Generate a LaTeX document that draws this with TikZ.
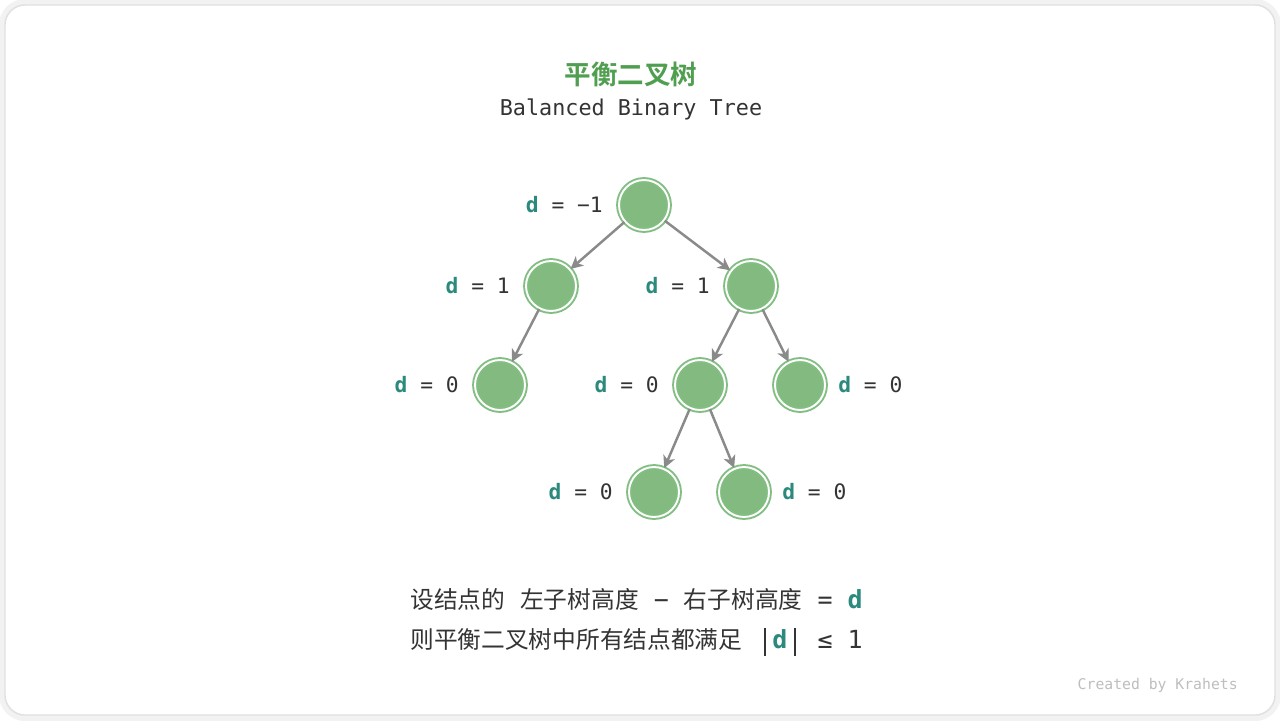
\documentclass[tikz,border=0pt]{standalone}
\usepackage{fontspec}
\setmonofont{DejaVu Sans Mono}
\newfontfamily\cjk{Noto Sans CJK SC}[BoldFont={Noto Sans CJK SC Bold}]
\usepackage{tikz}
\usetikzlibrary{arrows.meta, positioning}
\definecolor{titlegreen}{RGB}{80, 158, 80}
\definecolor{nodefill}{RGB}{130, 186, 128}
\definecolor{ringgreen}{RGB}{130, 190, 130}
\definecolor{dteal}{RGB}{43, 138, 125}
\definecolor{edgegray}{RGB}{138, 138, 138}
\definecolor{textdark}{RGB}{52, 52, 52}
\definecolor{creditgray}{RGB}{190, 190, 190}
\newcommand{\zh}[1]{{\cjk\fontsize{13.5pt}{17pt}\selectfont #1}}
\newcommand{\dd}{\textbf{\textcolor{dteal}{d}}}
\newcommand{\absbar}{\makebox[8.55pt]{\rule[-4pt]{1.5pt}{15.4pt}}}

\begin{document}
\begin{tikzpicture}[
    x=0.02cm, y=-0.02cm,
    every node/.style={inner sep=0pt},
    treenode/.style={circle, minimum size=1.0cm, fill=nodefill, draw=ringgreen, line width=1.1pt, double=white, double distance=1.1pt},
    dlabel/.style={font=\ttfamily\fontsize{12.1pt}{15pt}\selectfont, text=textdark},
    note/.style={font=\ttfamily\fontsize{14.2pt}{17pt}\selectfont, text=textdark, anchor=west},
    arrow/.style={->, >={Stealth[length=7pt, width=7pt, inset=2pt]}, line width=1.4pt, draw=edgegray}
]

% Frame
\useasboundingbox (0,0) rectangle (1280,720);
\draw[rounded corners=0.44cm, draw=black!5, line width=6pt] (4,4) rectangle (1276,716);
\draw[rounded corners=0.4cm, draw=black!12, fill=white, line width=0.8pt] (5,5) rectangle (1275,715);

% Title
\node[font=\cjk\bfseries\fontsize{15.1pt}{18pt}\selectfont, text=titlegreen] (title) at (631,74) {平衡二叉树};
\node[font=\ttfamily\fontsize{12.4pt}{15pt}\selectfont, text=textdark] (subtitle) at (631,109) {Balanced Binary Tree};

% Tree
\node[treenode] (root) at (644,205) {};
\node[treenode] (lone) at (551,286) {};
\node[treenode] (rone) at (751,286) {};
\node[treenode] (ltwo) at (500,385) {};
\node[treenode] (rltwo) at (700,385) {};
\node[treenode] (rrtwo) at (800,385) {};
\node[treenode] (rllthree) at (654,492) {};
\node[treenode] (rlrthree) at (744,492) {};

% Labels
\node[dlabel, left=0.3cm of root] (droot) {\dd\ = −1};
\node[dlabel, left=0.3cm of lone] (dlone) {\dd\ = 1};
\node[dlabel, left=0.3cm of rone] (drone) {\dd\ = 1};
\node[dlabel, left=0.3cm of ltwo] (dltwo) {\dd\ = 0};
\node[dlabel, left=0.3cm of rltwo] (drltwo) {\dd\ = 0};
\node[dlabel, right=0.24cm of rrtwo] (drrtwo) {\dd\ = 0};
\node[dlabel, left=0.3cm of rllthree] (drllthree) {\dd\ = 0};
\node[dlabel, right=0.24cm of rlrthree] (drlrthree) {\dd\ = 0};

% Arrows
\draw[arrow] (root) -- (lone);
\draw[arrow] (root) -- (rone);
\draw[arrow] (lone) -- (ltwo);
\draw[arrow] (rone) -- (rltwo);
\draw[arrow] (rone) -- (rrtwo);
\draw[arrow] (rltwo) -- (rllthree);
\draw[arrow] (rltwo) -- (rlrthree);

% Notes
\node[note] (noteone) at (410,599) {\zh{设结点的}\hspace{8.55pt}\zh{左子树高度}\ −\ \zh{右子树高度}\ =\ \dd};
\node[note] (notetwo) at (410,642) {\zh{则平衡二叉树中所有结点都满足}\ \absbar\dd\absbar\ ≤\ 1};
\node[font=\ttfamily\fontsize{8.4pt}{10pt}\selectfont, text=creditgray, anchor=east] (credit) at (1238,685) {Created by Krahets};

\end{tikzpicture}
\end{document}
